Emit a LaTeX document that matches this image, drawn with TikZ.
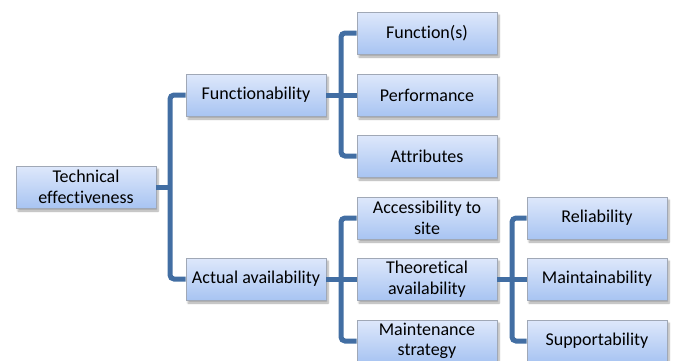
\documentclass[tikz,border=0pt]{standalone}
\usepackage{fontspec}
\setmainfont{Carlito}[Ligatures={NoCommon}]
\usetikzlibrary{shadows.blur,calc}
\definecolor{conncol}{RGB}{66,110,163}
\definecolor{boxtop}{RGB}{222,232,251}
\definecolor{boxbot}{RGB}{168,196,242}
\definecolor{boxline}{RGB}{160,168,182}
\tikzset{
  box/.style={draw=boxline, line width=0.8pt, top color=boxtop, bottom color=boxbot,
    minimum width=140pt, minimum height=42pt, align=center,
    inner sep=1pt, font=\fontsize{18}{20.5}\selectfont,
    blur shadow={shadow xshift=2pt, shadow yshift=-3pt, shadow blur steps=6, shadow opacity=35}},
  conn/.style={draw=conncol, line width=5pt, rounded corners=4pt}
}
\begin{document}
\begin{tikzpicture}[x=1pt,y=-1pt]
\useasboundingbox (0,0) rectangle (674,360);
\node[box] (tech) at (86,187) {Technical\\effectiveness};
\node[box] (func) at (256,95) {Functionability};
\node[box] (act) at (256,279) {Actual availability};
\node[box] (fs) at (427,33) {Function(s)};
\node[box] (perf) at (427,95) {Performance};
\node[box] (attr) at (427,156) {Attributes};
\node[box] (acc) at (427,218) {Accessibility to\\site};
\node[box] (theo) at (427,279) {Theoretical\\availability};
\node[box] (maint) at (427,341) {Maintenance\\strategy};
\node[box] (rel) at (597,218) {Reliability};
\node[box] (mtb) at (597,279) {Maintainability};
\node[box] (sup) at (597,341) {Supportability};
\coordinate (b1) at (170,0);
\coordinate (b2) at (341,0);
\coordinate (b3) at (512,0);
% level 1
\draw[conn] (func.west) -- (b1 |- func) -- (b1 |- act) -- (act.west);
\draw[conn] (tech.east) -- (b1 |- tech);
% functionability children
\draw[conn] (fs.west) -- (b2 |- fs) -- (b2 |- attr) -- (attr.west);
\draw[conn] (func.east) -- (perf.west);
% actual availability children
\draw[conn] (acc.west) -- (b2 |- acc) -- (b2 |- maint) -- (maint.west);
\draw[conn] (act.east) -- (theo.west);
% theoretical availability children
\draw[conn] (rel.west) -- (b3 |- rel) -- (b3 |- sup) -- (sup.west);
\draw[conn] (theo.east) -- (mtb.west);
\end{tikzpicture}
\end{document}
